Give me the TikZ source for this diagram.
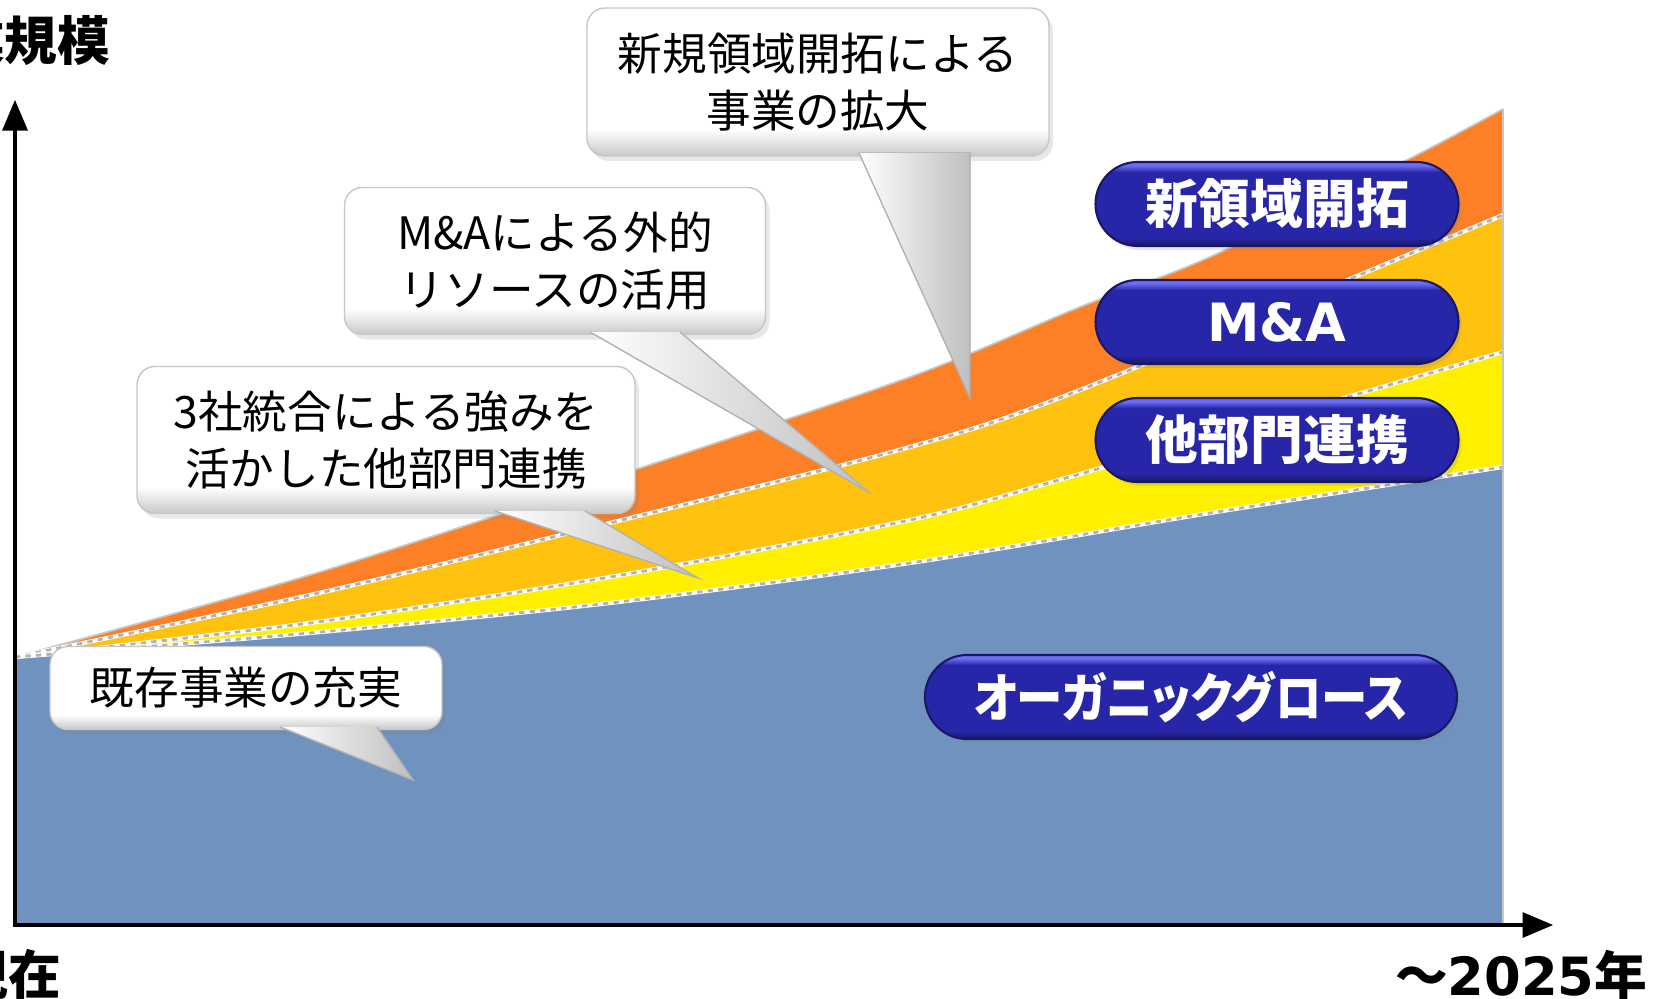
\documentclass[tikz,border=0pt]{standalone}
\usepackage{fontspec}
\setmainfont{Noto Sans CJK JP}
\newfontfamily\kanafont{Noto Sans CJK JP}[RawFeature=+palt]
\newfontfamily\latinfont{DejaVu Sans}
\usepackage{tikz}
\usetikzlibrary{positioning}
\usetikzlibrary{arrows}
\usetikzlibrary{shadows}
\definecolor{bandblue}{RGB}{112,146,190}
\definecolor{bandyellow}{RGB}{255,240,0}
\definecolor{bandgold}{RGB}{255,194,14}
\definecolor{bandorange}{RGB}{253,127,38}
\definecolor{pillnavy}{RGB}{40,38,168}
\definecolor{pilltop}{RGB}{110,110,245}
\definecolor{pilldark}{RGB}{24,24,100}
\definecolor{callgray}{RGB}{200,200,200}
\pgfdeclareverticalshading{pillshade}{100bp}{color(0bp)=(pilldark); color(25bp)=(pilldark); color(30bp)=(pillnavy); color(69bp)=(pillnavy); color(73bp)=(pilltop); color(100bp)=(pilltop)}
\pgfdeclareverticalshading{calloutshade}{100bp}{color(0bp)=(callgray); color(25bp)=(callgray); color(34bp)=(white); color(100bp)=(white)}
\tikzset{node distance=1.18cm,
      callout/.style={rounded corners=1.8mm, draw=gray!45, line width=0.4pt,
      shading=calloutshade, inner sep=0pt, align=center,
      font=\fontsize{12.7}{16.3}\selectfont,
      drop shadow={shadow xshift=0.4mm, shadow yshift=-0.5mm, opacity=0.18}},
      tail/.style={left color=white, right color=gray!50},
      tailrim/.style={draw=gray!60, line width=0.4pt},
      pill/.style={rounded corners=4.2mm, minimum height=8.4mm, inner sep=0pt,
      draw=pilldark, line width=0.6pt, shading=pillshade, text=white,
      font=\kanafont\bfseries\fontsize{15}{18}\selectfont,
      drop shadow={shadow xshift=0.3mm, shadow yshift=-0.4mm, opacity=0.2}},
      axislabel/.style={font=\bfseries\fontsize{15}{18}\selectfont, inner sep=0pt},
      axis/.style={<->, >=triangle 45, line width=1pt},
      seam/.style={draw=gray!60, line width=0.8pt, dash pattern=on 1.5pt off 1.5pt,
      preaction={draw=white, line width=1.2pt}},
      rim/.style={draw=gray!45, line width=0.5pt}}

\begin{document}
\begin{tikzpicture}[x=0.1mm,y=-0.1mm]
\useasboundingbox (0,0) rectangle (1653,998);
\clip (0,0) rectangle (1653,998);

\fill[bandorange] (15,923) -- plot[smooth] coordinates {(15,657) (310,575) (610,478) (910,377) (1080,307) (1210,257) (1407,160) (1503,109)} -- (1503,923) -- cycle;
\fill[bandgold] (15,923) -- plot[smooth] coordinates {(15,657) (310,595) (610,523) (910,447) (1080,390) (1503,215)} -- (1503,923) -- cycle;
\fill[bandyellow] (15,923) -- plot[smooth] coordinates {(15,657) (310,623) (610,577) (910,520) (1080,474) (1503,352)} -- (1503,923) -- cycle;
\fill[bandblue] (15,923) -- plot[smooth] coordinates {(15,657) (310,633) (610,603) (910,563) (1210,513) (1503,467)} -- (1503,923) -- cycle;

\draw[rim] plot[smooth] coordinates {(15,657) (310,575) (610,478) (910,377) (1080,307) (1210,257) (1407,160) (1503,109)};
\draw[seam] plot[smooth] coordinates {(15,657) (310,595) (610,523) (910,447) (1080,390) (1503,215)};
\draw[seam] plot[smooth] coordinates {(15,657) (310,623) (610,577) (910,520) (1080,474) (1503,352)};
\draw[seam] plot[smooth] coordinates {(15,657) (310,633) (610,603) (910,563) (1210,513) (1503,467)};
\draw[rim] (1503,109) -- (1503,923);

\coordinate (origin) at (15,925);
\coordinate (ytip) at (15,100);
\coordinate (xtip) at (1553,925);
\draw[axis] (ytip) -- (origin) -- (xtip);

\node[axislabel, anchor=east] (scale) at (111,41) {事業規模};
\node[axislabel, anchor=east] (now) at (62,975) {現在};
\node[axislabel, anchor=east] (year) at (1648,975) {〜{\latinfont\bfseries 2025}年};

\node[callout, minimum width=46.2mm, minimum height=14.8mm] (newc) at (818,82) {新規領域開拓による\\事業の拡大};
\coordinate (t1a) at (859,153);
\coordinate (t1b) at (970,153);
\coordinate (t1tip) at (970,398);
\fill[tail] (t1a) -- (t1tip) -- (t1b) -- cycle;
\draw[tailrim] (t1a) -- (t1tip) -- (t1b);

\node[callout, minimum width=42.1mm, minimum height=14.7mm] (mac) at (555,261) {M\&Aによる外的\\リソースの活用};
\coordinate (t2a) at (590,332);
\coordinate (t2b) at (680,332);
\coordinate (t2tip) at (870,493);
\fill[tail] (t2a) -- (t2tip) -- (t2b) -- cycle;
\draw[tailrim] (t2a) -- (t2tip) -- (t2b);

\node[callout, minimum width=49.8mm, minimum height=14.7mm] (sync) at (386,440) {3社統合による強みを\\活かした他部門連携};
\coordinate (t3a) at (495,511);
\coordinate (t3b) at (585,511);
\coordinate (t3tip) at (698,578);
\fill[tail] (t3a) -- (t3tip) -- (t3b) -- cycle;
\draw[tailrim] (t3a) -- (t3tip) -- (t3b);

\node[callout, minimum width=39.2mm, minimum height=8.3mm] (basec) at (246,688) {既存事業の充実};
\coordinate (t4a) at (280,727);
\coordinate (t4b) at (377,727);
\coordinate (t4tip) at (413,780);
\fill[tail] (t4a) -- (t4tip) -- (t4b) -- cycle;
\draw[tailrim] (t4a) -- (t4tip) -- (t4b);

\node[pill, minimum width=36.3mm] (newf) at (1277,204) {新領域開拓};
\node[pill, minimum width=36.3mm, below of=newf] (ma) {{\latinfont\bfseries M\&A}};
\node[pill, minimum width=36.3mm, below of=ma] (synergy) {他部門連携};
\node[pill, minimum width=53.2mm, anchor=east] (organic) at (1458,697) {\scalebox{0.88}[1]{オーガニックグロース}};
\end{tikzpicture}
\end{document}
